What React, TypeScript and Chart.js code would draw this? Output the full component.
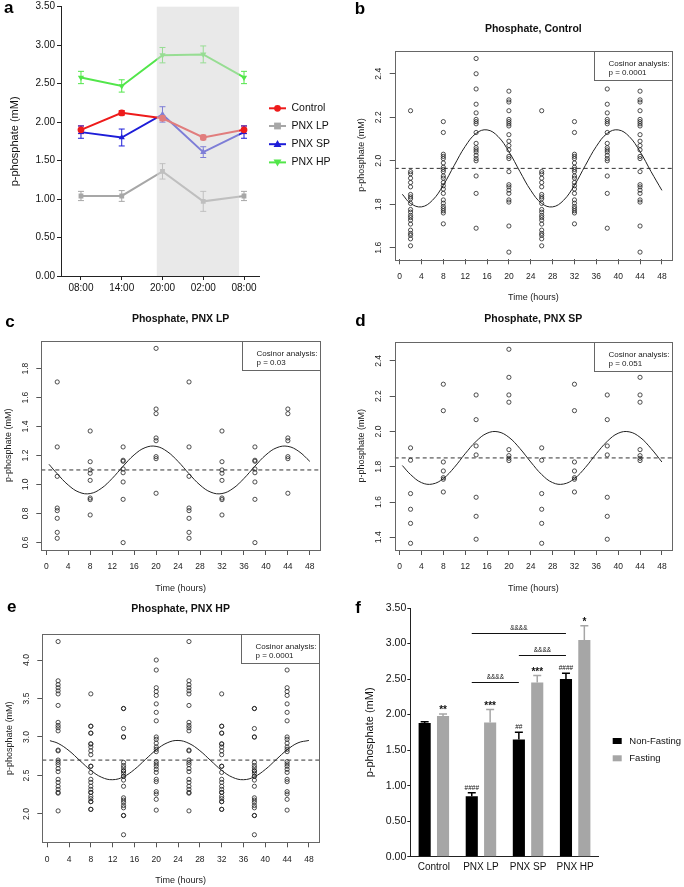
import React, { useEffect, useRef } from "react";
import { Chart, registerables } from "chart.js";

Chart.register(...registerables);

const FONT = "'Liberation Sans', Arial, Helvetica, sans-serif";

/* ---------------- Panel a data ---------------- */
const A_TIMES = ["08:00", "14:00", "20:00", "02:00", "08:00"];
const A_NAMES = ["Control", "PNX LP", "PNX SP", "PNX HP"];
const A_CONTROL = [1.9, 2.12, 2.05, 1.8, 1.9];
const A_CONTROL_ERR = [0.05, 0.03, 0.03, 0.03, 0.05];
const A_LP = [1.04, 1.04, 1.36, 0.97, 1.04];
const A_LP_ERR = [0.06, 0.07, 0.1, 0.13, 0.06];
const A_SP = [1.87, 1.8, 2.1, 1.61, 1.87];
const A_SP_ERR = [0.08, 0.11, 0.1, 0.07, 0.08];
const A_HP = [2.58, 2.47, 2.87, 2.88, 2.58];
const A_HP_ERR = [0.08, 0.08, 0.1, 0.11, 0.08];
const A_Y_TICKS = [0, 0.5, 1, 1.5, 2, 2.5, 3, 3.5];
const A_DARK_START = 1.86;
const A_DARK_END = 3.88;

/* ---------------- Cosinor panels data ---------------- */
const R_X_TICKS = [0, 4, 8, 12, 16, 20, 24, 28, 32, 36, 40, 44, 48];
const SAMPLE_HOURS = [2, 8, 14, 20, 26, 32, 38, 44];
const CURVE_HOURS = [0.5, 2, 4, 6, 8, 10, 12, 14, 16, 18, 20, 22, 24, 26, 28, 30, 32, 34, 36, 38, 40, 42, 44, 46, 48];

// b: Control
const B_T2 = [2.23, 1.95, 1.94, 1.92, 1.9, 1.88, 1.845, 1.834, 1.825, 1.804, 1.776, 1.764, 1.749, 1.739, 1.727, 1.709, 1.681, 1.666, 1.657, 1.641, 1.609];
const B_T8 = [2.18, 2.13, 2.03, 2.02, 2.01, 1.99, 1.97, 1.96, 1.95, 1.93, 1.92, 1.9, 1.885, 1.87, 1.85, 1.82, 1.805, 1.79, 1.78, 1.77, 1.76, 1.71];
const B_T14 = [2.47, 2.4, 2.33, 2.26, 2.22, 2.19, 2.18, 2.17, 2.13, 2.08, 2.06, 2.05, 2.04, 2.025, 2.01, 2.0, 1.93, 1.85, 1.69];
const B_T20 = [2.32, 2.28, 2.27, 2.23, 2.19, 2.18, 2.17, 2.16, 2.12, 2.09, 2.07, 2.05, 2.02, 2.01, 1.95, 1.89, 1.88, 1.865, 1.85, 1.82, 1.81, 1.7, 1.58];
const B_CURVE = [1.846, 1.804, 1.788, 1.818, 1.888, 1.979, 2.066, 2.126, 2.142, 2.112, 2.042, 1.951, 1.864, 1.804, 1.788, 1.818, 1.888, 1.979, 2.066, 2.126, 2.142, 2.112, 2.042, 1.951, 1.864];
const B_MESOR = 1.965;
const B_Y_TICKS = [1.6, 1.8, 2.0, 2.2, 2.4];

// c: PNX LP
const C_T2 = [1.708, 1.259, 1.056, 0.837, 0.819, 0.766, 0.669, 0.628];
const C_T8 = [1.369, 1.157, 1.1, 1.077, 1.028, 0.906, 0.895, 0.789];
const C_T14 = [1.259, 1.167, 1.16, 1.107, 1.081, 1.017, 0.897, 0.598];
const C_T20 = [1.94, 1.521, 1.489, 1.321, 1.302, 1.192, 1.178, 0.939];
const C_CURVE = [1.139, 1.074, 0.996, 0.946, 0.937, 0.972, 1.041, 1.126, 1.204, 1.254, 1.263, 1.228, 1.159, 1.074, 0.996, 0.946, 0.937, 0.972, 1.041, 1.126, 1.204, 1.254, 1.263, 1.228, 1.159];
const C_MESOR = 1.1;
const C_Y_TICKS = [0.6, 0.8, 1.0, 1.2, 1.4, 1.6, 1.8];

// d: PNX SP
const D_T2 = [1.907, 1.837, 1.648, 1.559, 1.479, 1.366];
const D_T8 = [2.268, 2.118, 1.827, 1.776, 1.738, 1.729, 1.657];
const D_T14 = [2.207, 2.067, 1.918, 1.867, 1.627, 1.519, 1.389];
const D_T20 = [2.466, 2.307, 2.207, 2.166, 1.897, 1.863, 1.848, 1.835];
const D_CURVE = [1.807, 1.756, 1.71, 1.702, 1.733, 1.796, 1.874, 1.944, 1.99, 1.998, 1.967, 1.904, 1.827, 1.756, 1.71, 1.702, 1.733, 1.796, 1.874, 1.944, 1.99, 1.998, 1.967, 1.904, 1.827];
const D_MESOR = 1.85;
const D_Y_TICKS = [1.4, 1.6, 1.8, 2.0, 2.2, 2.4];

// e: PNX HP
const E_T2 = [4.24, 3.73, 3.68, 3.64, 3.6, 3.56, 3.41, 3.19, 3.15, 3.12, 3.08, 2.83, 2.82, 2.7, 2.67, 2.64, 2.59, 2.55, 2.45, 2.41, 2.36, 2.32, 2.28, 2.27, 2.04];
const E_T8 = [3.56, 3.14, 3.14, 3.05, 3.05, 2.91, 2.91, 2.87, 2.82, 2.77, 2.62, 2.62, 2.54, 2.45, 2.41, 2.36, 2.32, 2.28, 2.28, 2.23, 2.2, 2.16, 2.16, 2.06, 2.06];
const E_T14 = [3.37, 3.37, 3.11, 3.0, 3.0, 2.67, 2.63, 2.6, 2.56, 2.56, 2.53, 2.49, 2.49, 2.44, 2.36, 2.21, 2.18, 2.15, 2.11, 2.08, 1.98, 1.98, 1.73];
const E_T20 = [4.0, 3.87, 3.64, 3.59, 3.54, 3.43, 3.32, 3.21, 3.0, 2.97, 2.92, 2.87, 2.84, 2.81, 2.68, 2.65, 2.62, 2.58, 2.54, 2.45, 2.42, 2.29, 2.26, 2.19, 2.05];
const E_CURVE = [2.952, 2.917, 2.822, 2.693, 2.567, 2.476, 2.445, 2.483, 2.578, 2.707, 2.833, 2.924, 2.955, 2.917, 2.822, 2.693, 2.567, 2.476, 2.445, 2.483, 2.578, 2.707, 2.833, 2.924, 2.955];
const E_MESOR = 2.7;
const E_Y_TICKS = [2.0, 2.5, 3.0, 3.5, 4.0];

/* ---------------- Panel f data ---------------- */
const F_GROUPS = ["Control", "PNX LP", "PNX SP", "PNX HP"];
const F_NONFAST = [1.88, 0.85, 1.65, 2.5];
const F_NONFAST_ERR = [0.02, 0.05, 0.1, 0.08];
const F_FAST = [1.98, 1.89, 2.45, 3.05];
const F_FAST_ERR = [0.03, 0.18, 0.1, 0.2];
const F_NONFAST_SIG = ["", "####", "##", "####"];
const F_FAST_SIG = ["**", "***", "***", "*"];
const F_BRACKET_FROM = [1, 2, 1];
const F_BRACKET_TO = [2, 3, 3];
const F_BRACKET_Y = [2.455, 2.84, 3.145];
const F_BRACKET_LABEL = ["&&&&", "&&&&", "&&&&"];
const F_Y_TICKS = [0, 0.5, 1, 1.5, 2, 2.5, 3, 3.5];

/* ---------------- helpers ---------------- */
function drawText(ctx: any, text: string, x: number, y: number, font: string, color: string, align = "center", baseline = "middle", rot = 0) {
  ctx.save();
  ctx.translate(x, y);
  if (rot) ctx.rotate(rot);
  ctx.font = font;
  ctx.fillStyle = color;
  ctx.textAlign = align;
  ctx.textBaseline = baseline;
  ctx.fillText(text, 0, 0);
  ctx.restore();
}

function drawMarker(ctx: any, style: string, x: number, y: number, r: number, color: string) {
  ctx.save();
  ctx.fillStyle = color;
  ctx.beginPath();
  if (style === "circle") {
    ctx.arc(x, y, r, 0, Math.PI * 2);
  } else if (style === "rect") {
    ctx.rect(x - r, y - r, 2 * r, 2 * r);
  } else if (style === "up") {
    ctx.moveTo(x, y - r * 1.15);
    ctx.lineTo(x + r * 1.1, y + r * 0.8);
    ctx.lineTo(x - r * 1.1, y + r * 0.8);
    ctx.closePath();
  } else {
    ctx.moveTo(x, y + r * 1.15);
    ctx.lineTo(x + r * 1.1, y - r * 0.8);
    ctx.lineTo(x - r * 1.1, y - r * 0.8);
    ctx.closePath();
  }
  ctx.fill();
  ctx.restore();
}

function ChartCanvas(props: { x: number; y: number; w: number; h: number; build: () => any }) {
  const ref = useRef<HTMLCanvasElement | null>(null);
  useEffect(() => {
    const chart = new Chart(ref.current as HTMLCanvasElement, props.build());
    return () => chart.destroy();
  }, []);
  return (
    <canvas
      ref={ref}
      width={props.w}
      height={props.h}
      style={{ position: "absolute", left: props.x, top: props.y, width: props.w, height: props.h }}
    />
  );
}

/* ---------------- Panel a ---------------- */
function buildA() {
  const W = 342;
  const area = { l: 61, t: 6.7, r: 259.9, b: 276 };
  const YW = 30;
  const XH = 20;
  const series = [
    { name: A_NAMES[0], vals: A_CONTROL, err: A_CONTROL_ERR, color: "#ee1b1b", style: "circle", r: 3.4 },
    { name: A_NAMES[1], vals: A_LP, err: A_LP_ERR, color: "#a7a7a7", style: "rect", r: 3.4 },
    { name: A_NAMES[2], vals: A_SP, err: A_SP_ERR, color: "#1d1dd8", style: "up", r: 3.6 },
    { name: A_NAMES[3], vals: A_HP, err: A_HP_ERR, color: "#52e64a", style: "down", r: 3.6 },
  ];
  const H = 306;
  const plugin = {
    id: "decorA",
    beforeDatasetsDraw(chart: any) {
      const ctx = chart.ctx;
      const xs = chart.scales.x;
      const ys = chart.scales.y;
      series.forEach((s) => {
        ctx.save();
        ctx.strokeStyle = s.color;
        ctx.lineWidth = 1;
        s.vals.forEach((v, i) => {
          const x = xs.getPixelForValue(i);
          const y1 = ys.getPixelForValue(v - s.err[i]);
          const y2 = ys.getPixelForValue(v + s.err[i]);
          ctx.beginPath();
          ctx.moveTo(x, y1);
          ctx.lineTo(x, y2);
          ctx.moveTo(x - 3, y1);
          ctx.lineTo(x + 3, y1);
          ctx.moveTo(x - 3, y2);
          ctx.lineTo(x + 3, y2);
          ctx.stroke();
        });
        ctx.restore();
      });
    },
    afterDatasetsDraw(chart: any) {
      const ctx = chart.ctx;
      const xs = chart.scales.x;
      const ca = chart.chartArea;
      const x1 = xs.getPixelForValue(A_DARK_START);
      const x2 = xs.getPixelForValue(A_DARK_END);
      ctx.save();
      ctx.fillStyle = "rgba(213,213,213,0.53)";
      ctx.fillRect(x1, ca.top, x2 - x1, ca.bottom - ca.top);
      ctx.restore();
    },
    afterDraw(chart: any) {
      const ctx = chart.ctx;
      const ca = chart.chartArea;
      drawText(ctx, "a", 4, 12.7, `bold 17px ${FONT}`, "#000", "left", "alphabetic");
      drawText(ctx, "p-phosphate (mM)", 15, (ca.top + ca.bottom) / 2, `11px ${FONT}`, "#111", "center", "middle", -Math.PI / 2);
      const ly = [108.3, 126, 144.2, 162.4];
      series.forEach((s, i) => {
        ctx.save();
        ctx.strokeStyle = s.color;
        ctx.lineWidth = 2;
        ctx.beginPath();
        ctx.moveTo(269, ly[i]);
        ctx.lineTo(286, ly[i]);
        ctx.stroke();
        ctx.restore();
        drawMarker(ctx, s.style, 277.5, ly[i], s.r, s.color);
        drawText(ctx, s.name, 291.5, ly[i], `10.5px ${FONT}`, "#111", "left", "middle");
      });
    },
  };
  return {
    type: "line",
    data: {
      datasets: series.map((s) => ({
        label: s.name,
        data: s.vals.map((v, i) => ({ x: i, y: v })),
        borderColor: s.color,
        backgroundColor: s.color,
        borderWidth: 2,
        pointStyle: s.style === "circle" ? "circle" : s.style === "rect" ? "rect" : "triangle",
        pointRotation: s.style === "down" ? 180 : 0,
        pointRadius: s.r,
        pointBorderWidth: 0,
        tension: 0,
      })),
    },
    options: {
      animation: false,
      responsive: false,
      events: [],
      layout: { padding: { left: area.l - YW, top: area.t, right: W - area.r, bottom: H - area.b - XH } },
      plugins: { legend: { display: false }, tooltip: { enabled: false } },
      scales: {
        x: {
          type: "linear",
          min: -0.49,
          max: 4.39,
          afterBuildTicks: (s: any) => {
            s.ticks = A_TIMES.map((_, i) => ({ value: i }));
          },
          afterFit: (s: any) => {
            s.height = XH;
            s.paddingLeft = 0;
            s.paddingRight = 0;
          },
          grid: { drawOnChartArea: false, drawTicks: true, tickLength: 4, color: "#222" },
          border: { display: true, color: "#222", width: 1 },
          ticks: {
            callback: (_v: any, i: number) => A_TIMES[i],
            font: { family: FONT, size: 10 },
            color: "#111",
            padding: 2,
            maxRotation: 0,
            autoSkip: false,
          },
        },
        y: {
          type: "linear",
          min: 0,
          max: 3.5,
          afterBuildTicks: (s: any) => {
            s.ticks = A_Y_TICKS.map((v) => ({ value: v }));
          },
          afterFit: (s: any) => {
            s.width = YW;
            s.paddingTop = 0;
            s.paddingBottom = 0;
          },
          grid: { drawOnChartArea: false, drawTicks: true, tickLength: 4, color: "#222" },
          border: { display: true, color: "#222", width: 1 },
          ticks: {
            callback: (v: any) => Number(v).toFixed(2),
            font: { family: FONT, size: 10 },
            color: "#111",
            padding: 2,
          },
        },
      },
    },
    plugins: [plugin],
  };
}

/* ---------------- Cosinor panels ---------------- */
const R_X_MIN = -0.9;
const R_X_MAX = 49.85;

function buildCosinor(p: {
  W: number;
  H: number;
  area: { l: number; t: number; r: number; b: number };
  yMin: number;
  yMax: number;
  yTicks: number[];
  columns: number[][];
  curve: number[];
  mesor: number;
  title: string;
  titleY: number;
  pText: string;
  letter: string;
  letterX: number;
  letterY: number;
}) {
  const YW = 8;
  const XH = 30;
  const BW = 78;
  const BH = 28.6;
  const points: { x: number; y: number }[] = [];
  SAMPLE_HOURS.forEach((t, i) => p.columns[i].forEach((v) => points.push({ x: t, y: v })));
  const plugin = {
    id: "decorR",
    afterDatasetsDraw(chart: any) {
      const ctx = chart.ctx;
      const ca = chart.chartArea;
      const bx = Math.round(ca.right - BW) + 0.5;
      const by = Math.round(ca.top) + 0.5;
      ctx.save();
      ctx.fillStyle = "#ffffff";
      ctx.fillRect(bx, by, Math.round(BW), Math.round(BH));
      ctx.restore();
    },
    afterDraw(chart: any) {
      const ctx = chart.ctx;
      const ca = chart.chartArea;
      const ys = chart.scales.y;
      ctx.save();
      ctx.strokeStyle = "#666";
      ctx.lineWidth = 1;
      ctx.strokeRect(Math.round(ca.left) + 0.5, Math.round(ca.top) + 0.5, Math.round(ca.right - ca.left), Math.round(ca.bottom - ca.top));
      const bx = Math.round(ca.right - BW) + 0.5;
      const by = Math.round(ca.top) + 0.5;
      ctx.strokeRect(bx, by, Math.round(BW), Math.round(BH));
      ctx.restore();
      drawText(ctx, "Cosinor analysis:", bx + 14, by + 12.3, `8px ${FONT}`, "#222", "left", "middle");
      drawText(ctx, p.pText, bx + 14, by + 21, `8px ${FONT}`, "#222", "left", "middle");
      p.yTicks.forEach((v) => {
        drawText(ctx, v.toFixed(1), ca.left - 16, ys.getPixelForValue(v), `8.5px ${FONT}`, "#222", "center", "middle", -Math.PI / 2);
      });
      const cx = (ca.left + ca.right) / 2;
      drawText(ctx, p.title, cx, p.titleY, `bold 10.5px ${FONT}`, "#111", "center", "middle");
      drawText(ctx, "Time (hours)", cx, ca.bottom + 38.5, `9px ${FONT}`, "#222", "center", "middle");
      drawText(ctx, "p-phosphate (mM)", ca.left - 33, (ca.top + ca.bottom) / 2, `9px ${FONT}`, "#222", "center", "middle", -Math.PI / 2);
      drawText(ctx, p.letter, p.letterX, p.letterY, `bold 17px ${FONT}`, "#000", "left", "alphabetic");
    },
  };
  return {
    type: "scatter",
    data: {
      datasets: [
        {
          type: "scatter",
          data: points,
          pointRadius: 2.1,
          pointBorderWidth: 0.8,
          pointBorderColor: "#222",
          pointBackgroundColor: "rgba(0,0,0,0)",
          showLine: false,
        },
        {
          type: "line",
          data: CURVE_HOURS.map((x, i) => ({ x, y: p.curve[i] })),
          borderColor: "#222",
          borderWidth: 1,
          pointRadius: 0,
          tension: 0.4,
          fill: false,
        },
        {
          type: "line",
          data: [
            { x: R_X_MIN, y: p.mesor },
            { x: R_X_MAX, y: p.mesor },
          ],
          borderColor: "#333",
          borderWidth: 1,
          borderDash: [4, 3],
          pointRadius: 0,
          fill: false,
        },
      ],
    },
    options: {
      animation: false,
      responsive: false,
      events: [],
      layout: { padding: { left: p.area.l - YW, top: p.area.t, right: p.W - p.area.r, bottom: p.H - p.area.b - XH } },
      plugins: { legend: { display: false }, tooltip: { enabled: false } },
      scales: {
        x: {
          type: "linear",
          min: R_X_MIN,
          max: R_X_MAX,
          afterBuildTicks: (s: any) => {
            s.ticks = R_X_TICKS.map((v) => ({ value: v }));
          },
          afterFit: (s: any) => {
            s.height = XH;
            s.paddingLeft = 0;
            s.paddingRight = 0;
          },
          grid: { drawOnChartArea: false, drawTicks: true, tickLength: 5, color: "#555", offset: false },
          border: { display: false },
          ticks: {
            callback: (v: any) => String(v),
            font: { family: FONT, size: 8.5 },
            color: "#222",
            padding: 7,
            maxRotation: 0,
            autoSkip: false,
          },
        },
        y: {
          type: "linear",
          min: p.yMin,
          max: p.yMax,
          afterBuildTicks: (s: any) => {
            s.ticks = p.yTicks.map((v) => ({ value: v }));
          },
          afterFit: (s: any) => {
            s.width = YW;
            s.paddingTop = 0;
            s.paddingBottom = 0;
          },
          grid: { drawOnChartArea: false, drawTicks: true, tickLength: 5, color: "#555" },
          border: { display: false },
          ticks: { display: false },
        },
      },
    },
    plugins: [plugin],
  };
}

const buildB = () =>
  buildCosinor({
    W: 342, H: 306,
    area: { l: 52.7, t: 50.7, r: 330, b: 259.3 },
    yMin: 1.547, yMax: 2.506, yTicks: B_Y_TICKS,
    columns: [B_T2, B_T8, B_T14, B_T20, B_T2, B_T8, B_T14, B_T20],
    curve: B_CURVE, mesor: B_MESOR,
    title: "Phosphate, Control", titleY: 29, pText: "p = 0.0001",
    letter: "b", letterX: 12.7, letterY: 14,
  });

const buildC = () =>
  buildCosinor({
    W: 342, H: 288,
    area: { l: 41.3, t: 34.7, r: 320, b: 244 },
    yMin: 0.547, yMax: 1.993, yTicks: C_Y_TICKS,
    columns: [C_T2, C_T8, C_T14, C_T20, C_T2, C_T8, C_T14, C_T20],
    curve: C_CURVE, mesor: C_MESOR,
    title: "Phosphate, PNX LP", titleY: 13.3, pText: "p = 0.03",
    letter: "c", letterX: 5.3, letterY: 20.7,
  });

const buildD = () =>
  buildCosinor({
    W: 342, H: 288,
    area: { l: 52.7, t: 35.7, r: 330, b: 244 },
    yMin: 1.328, yMax: 2.509, yTicks: D_Y_TICKS,
    columns: [D_T2, D_T8, D_T14, D_T20, D_T2, D_T8, D_T14, D_T20],
    curve: D_CURVE, mesor: D_MESOR,
    title: "Phosphate, PNX SP", titleY: 13.3, pText: "p = 0.051",
    letter: "d", letterX: 13.3, letterY: 20,
  });

const buildE = () =>
  buildCosinor({
    W: 342, H: 293,
    area: { l: 42.3, t: 40, r: 319, b: 248.3 },
    yMin: 1.632, yMax: 4.338, yTicks: E_Y_TICKS,
    columns: [E_T2, E_T8, E_T14, E_T20, E_T2, E_T8, E_T14, E_T20],
    curve: E_CURVE, mesor: E_MESOR,
    title: "Phosphate, PNX HP", titleY: 15.3, pText: "p = 0.0001",
    letter: "e", letterX: 7, letterY: 18.3,
  });

/* ---------------- Panel f ---------------- */
function buildF() {
  const W = 342;
  const H = 293;
  const area = { l: 68.3, t: 14, r: 256.7, b: 262.7 };
  const YW = 30;
  const XH = 22;
  const errs = [F_NONFAST_ERR, F_FAST_ERR];
  const vals = [F_NONFAST, F_FAST];
  const colors = ["#000000", "#a6a6a6"];
  const plugin = {
    id: "decorF",
    afterDatasetsDraw(chart: any) {
      const ctx = chart.ctx;
      const ys = chart.scales.y;
      [0, 1].forEach((d) => {
        const meta = chart.getDatasetMeta(d);
        ctx.save();
        ctx.strokeStyle = colors[d];
        ctx.lineWidth = 1.5;
        meta.data.forEach((bar: any, j: number) => {
          const top = ys.getPixelForValue(vals[d][j] + errs[d][j]);
          ctx.beginPath();
          ctx.moveTo(bar.x, bar.y);
          ctx.lineTo(bar.x, top);
          ctx.moveTo(bar.x - 4, top);
          ctx.lineTo(bar.x + 4, top);
          ctx.stroke();
        });
        ctx.restore();
      });
    },
    afterDraw(chart: any) {
      const ctx = chart.ctx;
      const ys = chart.scales.y;
      const ca = chart.chartArea;
      const m0 = chart.getDatasetMeta(0).data;
      const m1 = chart.getDatasetMeta(1).data;
      F_NONFAST_SIG.forEach((s, j) => {
        if (!s) return;
        const top = ys.getPixelForValue(F_NONFAST[j] + F_NONFAST_ERR[j]);
        drawText(ctx, s, m0[j].x, top - 5, `6.5px ${FONT}`, "#111", "center", "middle");
      });
      F_FAST_SIG.forEach((s, j) => {
        if (!s) return;
        const top = ys.getPixelForValue(F_FAST[j] + F_FAST_ERR[j]);
        drawText(ctx, s, m1[j].x, top - 1, `bold 10px ${FONT}`, "#111", "center", "alphabetic");
      });
      F_BRACKET_Y.forEach((v, k) => {
        const y = Math.round(ys.getPixelForValue(v)) + 0.5;
        const x1 = m0[F_BRACKET_FROM[k]].x;
        const x2 = m0[F_BRACKET_TO[k]].x;
        ctx.save();
        ctx.strokeStyle = "#111";
        ctx.lineWidth = 1;
        ctx.beginPath();
        ctx.moveTo(x1, y);
        ctx.lineTo(x2, y);
        ctx.stroke();
        ctx.restore();
        drawText(ctx, F_BRACKET_LABEL[k], (x1 + x2) / 2, y - 5, `6.5px ${FONT}`, "#111", "center", "middle");
      });
      drawText(ctx, "f", 13.3, 19.3, `bold 17px ${FONT}`, "#000", "left", "alphabetic");
      drawText(ctx, "p-phosphate (mM)", 27.5, (ca.top + ca.bottom) / 2, `11px ${FONT}`, "#111", "center", "middle", -Math.PI / 2);
      const ly = [147, 164.3];
      const names = ["Non-Fasting", "Fasting"];
      ly.forEach((y, i) => {
        ctx.save();
        ctx.fillStyle = colors[i];
        ctx.fillRect(270.7, y - 3, 9, 6);
        ctx.restore();
        drawText(ctx, names[i], 287.3, y, `9.5px ${FONT}`, "#111", "left", "middle");
      });
    },
  };
  return {
    type: "bar",
    data: {
      labels: F_GROUPS,
      datasets: [
        { label: "Non-Fasting", data: F_NONFAST, backgroundColor: colors[0], categoryPercentage: 0.78, barPercentage: 0.66 },
        { label: "Fasting", data: F_FAST, backgroundColor: colors[1], categoryPercentage: 0.78, barPercentage: 0.66 },
      ],
    },
    options: {
      animation: false,
      responsive: false,
      events: [],
      layout: { padding: { left: area.l - YW, top: area.t, right: W - area.r, bottom: H - area.b - XH } },
      plugins: { legend: { display: false }, tooltip: { enabled: false } },
      scales: {
        x: {
          afterFit: (s: any) => {
            s.height = XH;
            s.paddingLeft = 0;
            s.paddingRight = 0;
          },
          grid: { display: false, drawTicks: true, tickLength: 3 },
          border: { display: true, color: "#222", width: 1 },
          ticks: { font: { family: FONT, size: 10 }, color: "#111", padding: 2, maxRotation: 0, autoSkip: false },
        },
        y: {
          type: "linear",
          min: 0,
          max: 3.5,
          afterBuildTicks: (s: any) => {
            s.ticks = F_Y_TICKS.map((v) => ({ value: v }));
          },
          afterFit: (s: any) => {
            s.width = YW;
            s.paddingTop = 0;
            s.paddingBottom = 0;
          },
          grid: { drawOnChartArea: false, drawTicks: true, tickLength: 3, color: "#222" },
          border: { display: true, color: "#222", width: 1 },
          ticks: {
            callback: (v: any) => Number(v).toFixed(2),
            font: { family: FONT, size: 10.5 },
            color: "#111",
            padding: 1,
          },
        },
      },
    },
    plugins: [plugin],
  };
}

export default function App() {
  return (
    <div style={{ position: "absolute", left: 0, top: 0, width: 684, height: 887, background: "#fff", overflow: "hidden" }}>
      <ChartCanvas x={0} y={0} w={342} h={306} build={buildA} />
      <ChartCanvas x={342} y={0} w={342} h={306} build={buildB} />
      <ChartCanvas x={0} y={306} w={342} h={288} build={buildC} />
      <ChartCanvas x={342} y={306} w={342} h={288} build={buildD} />
      <ChartCanvas x={0} y={594} w={342} h={293} build={buildE} />
      <ChartCanvas x={342} y={594} w={342} h={293} build={buildF} />
    </div>
  );
}
